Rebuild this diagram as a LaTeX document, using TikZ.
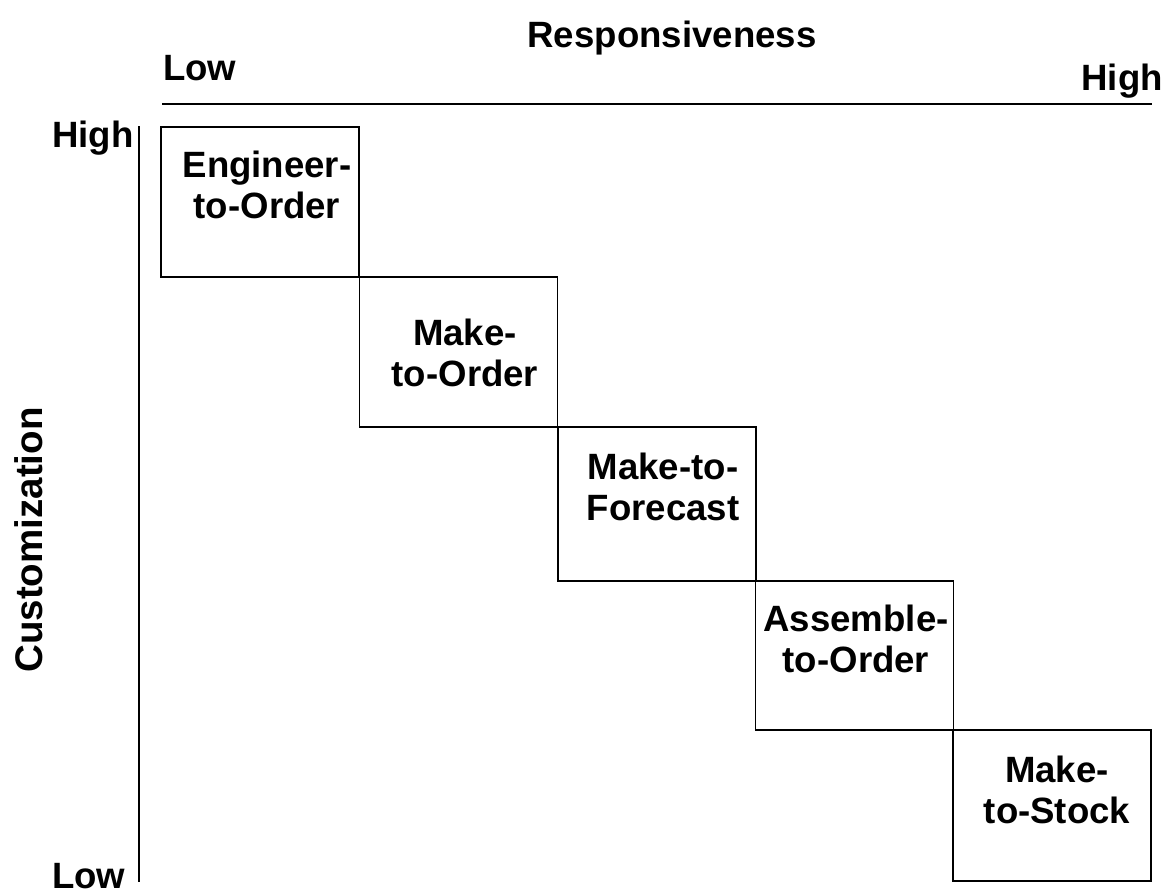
\documentclass[tikz,border=0pt]{standalone}
\usepackage{fontspec}
\setmainfont{Liberation Sans}
\begin{document}
\begin{tikzpicture}[x=1pt,y=-1pt,
  stage/.style={draw=black, line width=1.9pt, inner sep=0pt, outer sep=0pt,
                minimum width=198pt, minimum height=150pt},
  stagetext/.style={align=center, inner sep=0pt, anchor=base,
                font=\bfseries\fontsize{36.6}{40.5}\selectfont},
  axistext/.style={inner sep=0pt, font=\bfseries\fontsize{36.6}{40.5}\selectfont},
  axisline/.style={draw=black, line width=2pt}]
\useasboundingbox (0,0) rectangle (1175,894);

% axes
\coordinate (hx0) at (162,104);
\coordinate (hx1) at (1152,104);
\coordinate (vy0) at (139,126);
\coordinate (vy1) at (139,882);
\draw[axisline] (hx0) -- (hx1);
\draw[axisline] (vy0) -- (vy1);

\node[axistext, anchor=base] (resp) at (672,47) {Responsiveness};
\node[axistext, anchor=base west] (rlow) at (163,80) {Low};
\node[axistext, anchor=base east] (rhigh) at (1163,90) {High};
\node[axistext, anchor=base west] (chigh) at (52,147) {High};
\node[axistext, anchor=base west] (clow) at (52,888) {Low};
\node[axistext, anchor=base, rotate=90,
      font=\bfseries\fontsize{38.5}{42}\selectfont] (cust) at (42,540) {Customization};

% staircase of production strategies
\node[stage, minimum height=150pt] (b1) at (260,202) {};
\node[stage, minimum height=150pt] (b2) at (458.5,352) {};
\node[stage, minimum height=154pt] (b3) at (657,504) {};
\node[stage, minimum height=149pt] (b4) at (854.5,655.5) {};
\node[stage, minimum height=151pt] (b5) at (1052,805.5) {};

% the base anchor sits on the second line of each label
\node[stagetext] (t1) at (267,218) {Engineer-\\to-Order};
\node[stagetext] (t2) at (465,386) {Make-\\to-Order};
\node[stagetext] (t3) at (663,520) {Make-to-\\Forecast};
\node[stagetext] (t4) at (856,672) {Assemble-\\to-Order};
\node[stagetext] (t5) at (1057,823) {Make-\\to-Stock};
\end{tikzpicture}
\end{document}
